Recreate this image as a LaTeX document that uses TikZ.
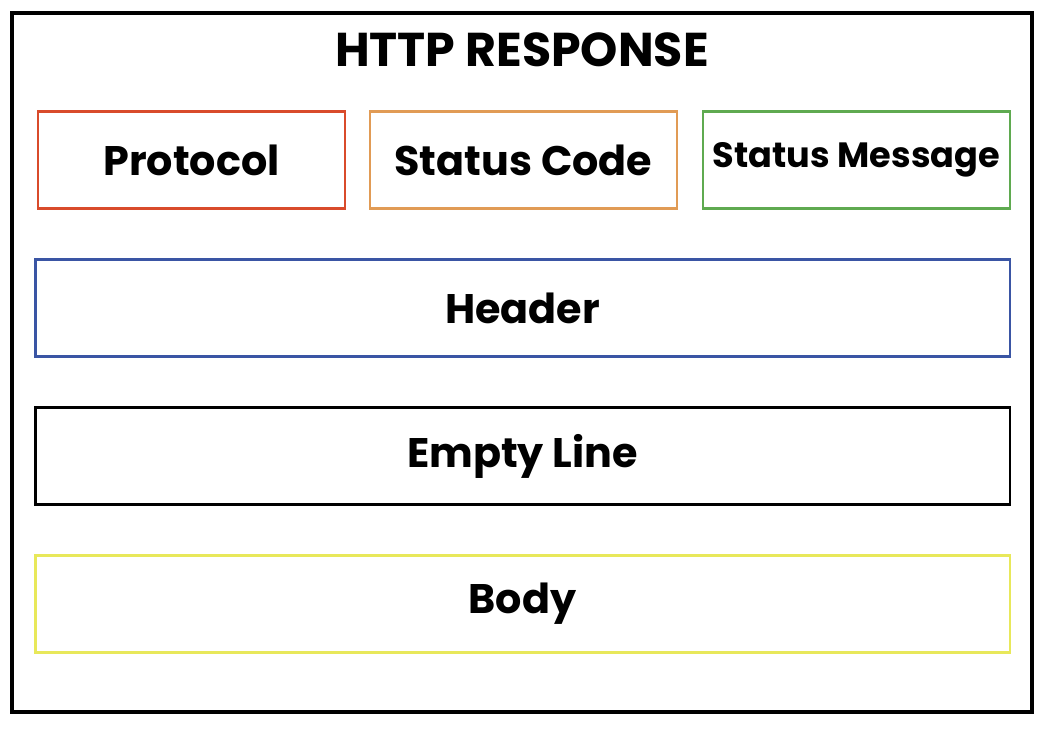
\documentclass[tikz,border=0pt]{standalone}
\usepackage{fontspec}
\setmainfont{Poppins}
\usepackage{xcolor}
\definecolor{protored}{HTML}{D94B2B}
\definecolor{codeorange}{HTML}{E19B55}
\definecolor{msggreen}{HTML}{5FAA50}
\definecolor{headblue}{HTML}{3A55A4}
\definecolor{bodyyellow}{HTML}{E8E85A}

\begin{document}
\begin{tikzpicture}
    [x=0.02cm,y=-0.02cm,every node/.style={draw,line width=1.6pt,minimum height=1.94cm,font=\bfseries\fontsize{23.5}{28}\selectfont}]
    \useasboundingbox (0,0) rectangle (1046,729);
    \draw[line width=2.2pt] (12,13) rectangle (1032,712);
    \node[draw=none,font=\bfseries\fontsize{27}{32}\selectfont] (title) at (522,50) {HTTP RESPONSE};

    % premiere ligne
    \node[draw=protored,minimum width=6.14cm] (proto) at (191.5,160) {Protocol};
    \node[draw=codeorange,minimum width=6.14cm] (code) at (523.5,160) {Status Code};
    \node[draw=msggreen,minimum width=6.14cm,font=\bfseries\fontsize{20}{24}\selectfont] (msg) at (856.5,160) {\raisebox{2pt}{Status Message}};

    % le reste
    \node[draw=headblue,minimum width=19.5cm] (header) at (522.5,308) {Header};
    \node[draw=black,minimum width=19.5cm] (empty) at (522.5,456) {Empty Line};
    \node[draw=bodyyellow,minimum width=19.5cm] (body) at (522.5,604) {Body};
\end{tikzpicture}
\end{document}
